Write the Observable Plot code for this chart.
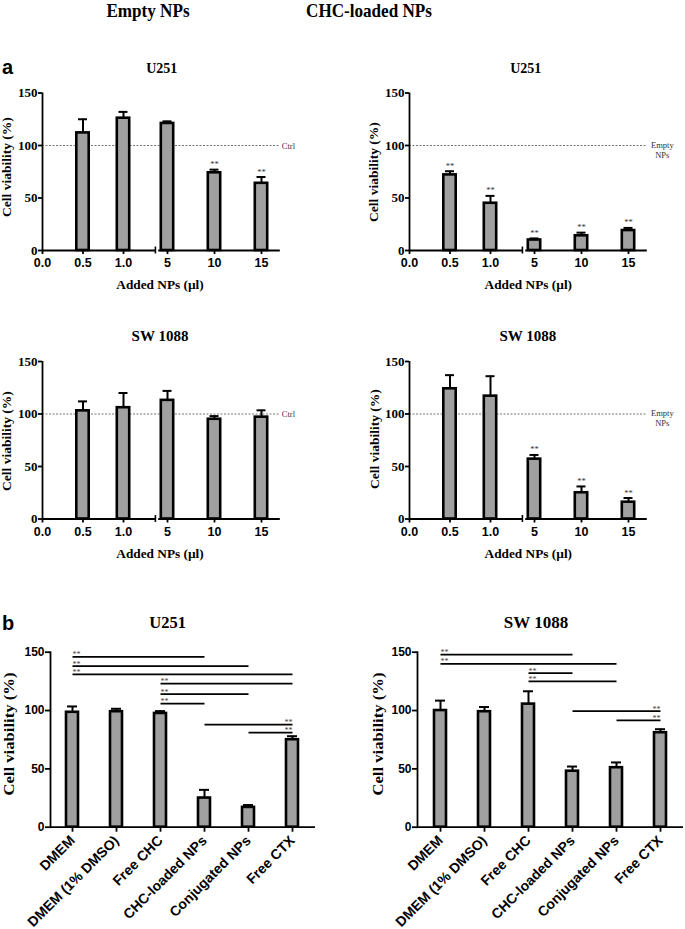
<!DOCTYPE html>
<html><head><meta charset="utf-8">
<script src="https://cdn.jsdelivr.net/npm/d3@7"></script>
<script src="https://cdn.jsdelivr.net/npm/@observablehq/plot@0.6"></script>
<style>
body{margin:0;background:#fff}
#fig{position:relative;width:685px;height:929px;overflow:hidden;background:#fff}
#fig svg{position:absolute;left:0;top:0}
.lbl{position:absolute;white-space:nowrap;line-height:1;color:#000}
</style></head><body><div id="fig"></div>
<script>
const SERIF = "'Liberation Serif','Times New Roman',serif";
const SANS = "'Liberation Sans',Arial,sans-serif";
const BAR = "#a0a0a0";
const W = 685, H = 929;

// ---------- Panel a data ----------
const doses = [0.5, 1.0, 5, 10, 15];
const doseTicks = [0, 0.5, 1, 5, 10, 15];
const doseTickLabels = ["0.0", "0.5", "1.0", "5", "10", "15"];
const yTicks = [0, 50, 100, 150];

const u251EmptyMean = [112, 126, 121, 74, 64];
const u251EmptyErr = [13, 6, 2, 3, 6];
const u251EmptySig = [false, false, false, true, true];

const u251LoadedMean = [72, 45, 10, 14, 19];
const u251LoadedErr = [3.5, 7, 1.5, 3, 2.5];
const u251LoadedSig = [true, true, true, true, true];

const sw1088EmptyMean = [103, 106, 113, 95, 97];
const sw1088EmptyErr = [9, 14, 9, 3, 6.5];
const sw1088EmptySig = [false, false, false, false, false];

const sw1088LoadedMean = [124, 117, 57, 25, 16];
const sw1088LoadedErr = [13, 19, 4, 6, 4];
const sw1088LoadedSig = [false, false, true, true, true];

// ---------- Panel b data ----------
const treatments = ["DMEM", "DMEM (1% DMSO)", "Free CHC", "CHC-loaded NPs", "Conjugated NPs", "Free CTX"];
const u251TreatMean = [98.5, 99, 97.5, 25, 17, 75];
const u251TreatErr = [5, 2.5, 2, 7, 2, 3];
const sw1088TreatMean = [100, 99, 105.5, 48, 51, 81];
const sw1088TreatErr = [8.5, 4, 11, 4, 4.5, 3];

const u251SigFrom = ["DMEM", "DMEM", "DMEM", "Free CHC", "Free CHC", "Free CHC", "CHC-loaded NPs", "Conjugated NPs"];
const u251SigTo = ["CHC-loaded NPs", "Conjugated NPs", "Free CTX", "Free CTX", "Conjugated NPs", "CHC-loaded NPs", "Free CTX", "Free CTX"];
const u251SigLevel = [146, 138, 131, 123, 114, 106, 88, 81];
const u251SigSide = ["start", "start", "start", "start", "start", "start", "end", "end"];

const sw1088SigFrom = ["DMEM", "DMEM", "Free CHC", "Free CHC", "CHC-loaded NPs", "Conjugated NPs"];
const sw1088SigTo = ["CHC-loaded NPs", "Conjugated NPs", "CHC-loaded NPs", "Conjugated NPs", "Free CTX", "Free CTX"];
const sw1088SigLevel = [148, 140, 132, 125, 99.5, 91.5];
const sw1088SigSide = ["start", "start", "start", "start", "end", "end"];

const fig = document.getElementById("fig");

function addPlot(p) {
  p.style.background = "transparent";
  p.style.position = "absolute";
  p.style.left = "0px";
  p.style.top = "0px";
  fig.appendChild(p);
}

function label(text, x, baseline, size, family, opts = {}) {
  const {anchor = "middle", weight = "bold", color = "#000", scaleX = 1} = opts;
  const d = document.createElement("div");
  d.className = "lbl";
  d.textContent = text;
  d.style.fontFamily = family;
  d.style.fontSize = size + "px";
  d.style.fontWeight = weight;
  d.style.color = color;
  d.style.left = x + "px";
  d.style.top = (baseline - 0.84 * size) + "px";
  const tx = anchor === "middle" ? "translateX(-50%)" : anchor === "end" ? "translateX(-100%)" : "";
  d.style.transformOrigin = anchor === "middle" ? "50% 50%" : "0 50%";
  d.style.transform = tx + (scaleX !== 1 ? ` scaleX(${scaleX})` : "");
  fig.appendChild(d);
}

function ylabel(text, cx, cy, size, stretch = 1) {
  const d = document.createElement("div");
  d.className = "lbl";
  d.textContent = text;
  d.style.fontFamily = SERIF;
  d.style.fontSize = size + "px";
  d.style.fontWeight = "bold";
  d.style.left = cx + "px";
  d.style.top = cy + "px";
  d.style.transform = `translate(-50%,-50%) rotate(-90deg) scaleX(${stretch})`;
  fig.appendChild(d);
}

// Panel a chart (broken x axis)
function panelA({X0, Y0, mean, err, sig, ref}) {
  const data = doses.map((d, i) => ({dose: d, v: mean[i], e: err[i], s: sig[i]}));
  const tickLabel = new Map(doseTicks.map((t, i) => [t, doseTickLabels[i]]));
  const xEnd = 17, xBreak = 3.9, xResume = 4.2;
  const twoLine = ref.includes("\n");
  const p = Plot.plot({
    width: W, height: H,
    marginLeft: X0, marginRight: W - (X0 + 238),
    marginTop: Y0 - 157.5, marginBottom: H - Y0,
    x: {type: "linear", domain: [0, 1, 5, 15], range: [X0, X0 + 81, X0 + 125, X0 + 219]},
    y: {type: "linear", domain: [0, 150]},
    marks: [
      Plot.ruleY([100], {stroke: "#666", strokeWidth: 0.9, strokeDasharray: "2,1.5"}),
      Plot.text([ref], {x: xEnd, y: 100, text: d => d, textAnchor: twoLine ? "middle" : "start",
        dx: twoLine ? 15 : 1.5, lineAnchor: twoLine ? "top" : "middle",
        dy: twoLine ? -4.5 : 0, lineHeight: 1.15,
        fontFamily: SERIF, fontSize: 8.5, fill: "#333"}),
      Plot.ruleY([{a: 0, b: xBreak}, {a: xResume, b: xEnd}], {y: 0, x1: "a", x2: "b", strokeWidth: 1.8}),
      Plot.ruleX([xBreak], {y1: -3.3, y2: 3.3, strokeWidth: 1.6}),
      Plot.ruleX([0], {y1: 0, y2: 150, strokeWidth: 1.8}),
      Plot.axisY({ticks: yTicks, tickSize: 4, tickPadding: 1, label: null,
        fontFamily: SERIF, fontWeight: "bold", fontSize: 13, strokeWidth: 1.8}),
      Plot.axisX({ticks: doseTicks, tickFormat: t => tickLabel.get(t), tickSize: 4, tickPadding: 4, label: null,
        fontFamily: SANS, fontWeight: "bold", fontSize: 12.5, strokeWidth: 1.8}),
      Plot.ruleX(data, {x: "dose", y1: "v", y2: d => d.v + d.e, strokeWidth: 2}),
      Plot.ruleY(data, {y: d => d.v + d.e, x1: "dose", x2: "dose", insetLeft: -4.5, insetRight: -4.5, strokeWidth: 2}),
      Plot.rect(data, {x1: "dose", x2: "dose", y1: 0, y2: "v", insetLeft: -6.2, insetRight: -6.2,
        fill: BAR, stroke: "#000", strokeWidth: 2.6}),
      Plot.text(data.filter(d => d.s), {x: "dose", y: d => d.v + d.e, text: () => "**", lineAnchor: "bottom",
        dy: -2.5, fontFamily: SERIF, fontSize: 8.5, fill: "#333"})
    ]
  });
  addPlot(p);
}

function panelB({X0, X1, mean, err, from, to, level, side}) {
  const data = treatments.map((t, i) => ({t, v: mean[i], e: err[i]}));
  const sigs = from.map((f, i) => ({from: f, to: to[i], y: level[i], side: side[i]}));
  const p = Plot.plot({
    width: W, height: H,
    marginLeft: X0, marginRight: W - X1,
    marginTop: 651.7, marginBottom: H - 826.7,
    x: {domain: treatments, paddingInner: 0.72, paddingOuter: 0.37},
    y: {type: "linear", domain: [0, 150]},
    marks: [
      Plot.frame({anchor: "left", strokeWidth: 1.8}),
      Plot.ruleY([0], {strokeWidth: 1.8}),
      Plot.axisY({ticks: yTicks, tickSize: 5, tickPadding: 1, label: null,
        fontFamily: SANS, fontWeight: "bold", fontSize: 12, strokeWidth: 1.8}),
      Plot.axisX({tickSize: 5, tickPadding: 6, tickRotate: -45, label: null,
        fontFamily: SANS, fontWeight: "bold", fontSize: 14, strokeWidth: 1.8}),
      Plot.ruleX(data, {x: "t", y1: "v", y2: d => d.v + d.e, strokeWidth: 2}),
      Plot.tickY(data, {x: "t", y: d => d.v + d.e, strokeWidth: 2, insetLeft: 1, insetRight: 1}),
      Plot.barY(data, {x: "t", y: "v", fill: BAR, stroke: "#000", strokeWidth: 2.6}),
      Plot.link(sigs, {x1: "from", x2: "to", y1: "y", y2: "y", strokeWidth: 1.7}),
      Plot.text(sigs.filter(d => d.side === "start"), {x: "from", y: "y", text: () => "**", textAnchor: "start",
        lineAnchor: "bottom", dy: 0.5, fontFamily: SERIF, fontSize: 8, fill: "#444"}),
      Plot.text(sigs.filter(d => d.side === "end"), {x: "to", y: "y", text: () => "**", textAnchor: "end",
        lineAnchor: "bottom", dy: 0.5, fontFamily: SERIF, fontSize: 8, fill: "#444"})
    ]
  });
  addPlot(p);
}

panelA({X0: 42, Y0: 250, mean: u251EmptyMean, err: u251EmptyErr, sig: u251EmptySig, ref: "Ctrl"});
panelA({X0: 409, Y0: 250, mean: u251LoadedMean, err: u251LoadedErr, sig: u251LoadedSig, ref: "Empty\nNPs"});
panelA({X0: 42, Y0: 518.5, mean: sw1088EmptyMean, err: sw1088EmptyErr, sig: sw1088EmptySig, ref: "Ctrl"});
panelA({X0: 409, Y0: 518.5, mean: sw1088LoadedMean, err: sw1088LoadedErr, sig: sw1088LoadedSig, ref: "Empty\nNPs"});

panelB({X0: 50, X1: 315, mean: u251TreatMean, err: u251TreatErr, from: u251SigFrom, to: u251SigTo, level: u251SigLevel, side: u251SigSide});
panelB({X0: 417, X1: 683, mean: sw1088TreatMean, err: sw1088TreatErr, from: sw1088SigFrom, to: sw1088SigTo, level: sw1088SigLevel, side: sw1088SigSide});

// Titles and labels
label("Empty NPs", 147.5, 16.5, 19, SERIF, {scaleX: 0.9});
label("CHC-loaded NPs", 368.7, 16.5, 19, SERIF, {scaleX: 0.9});
label("a", 2, 74, 20, SANS, {anchor: "start"});
label("b", 2, 630, 20, SANS, {anchor: "start"});
label("U251", 161.7, 73.3, 14, SERIF);
label("U251", 525.7, 73.3, 14, SERIF);
label("SW 1088", 160, 341.7, 15, SERIF);
label("SW 1088", 527.8, 341.7, 15, SERIF);
label("U251", 167.7, 629.3, 16.5, SERIF);
label("SW 1088", 536, 628.3, 17, SERIF);
label("Added NPs (µl)", 160, 289, 13.3, SERIF);
label("Added NPs (µl)", 528.3, 289, 13.3, SERIF);
label("Added NPs (µl)", 160, 558.3, 13.3, SERIF);
label("Added NPs (µl)", 528.3, 558.3, 13.3, SERIF);
ylabel("Cell viability (%)", 7, 167, 13.5);
ylabel("Cell viability (%)", 374, 171.5, 13.5);
ylabel("Cell viability (%)", 7, 440.5, 13.5);
ylabel("Cell viability (%)", 375, 439, 13.5);
ylabel("Cell viability (%)", 9, 734, 14.5, 1.15);
ylabel("Cell viability (%)", 377.5, 734, 14.5, 1.15);
</script></body></html>
